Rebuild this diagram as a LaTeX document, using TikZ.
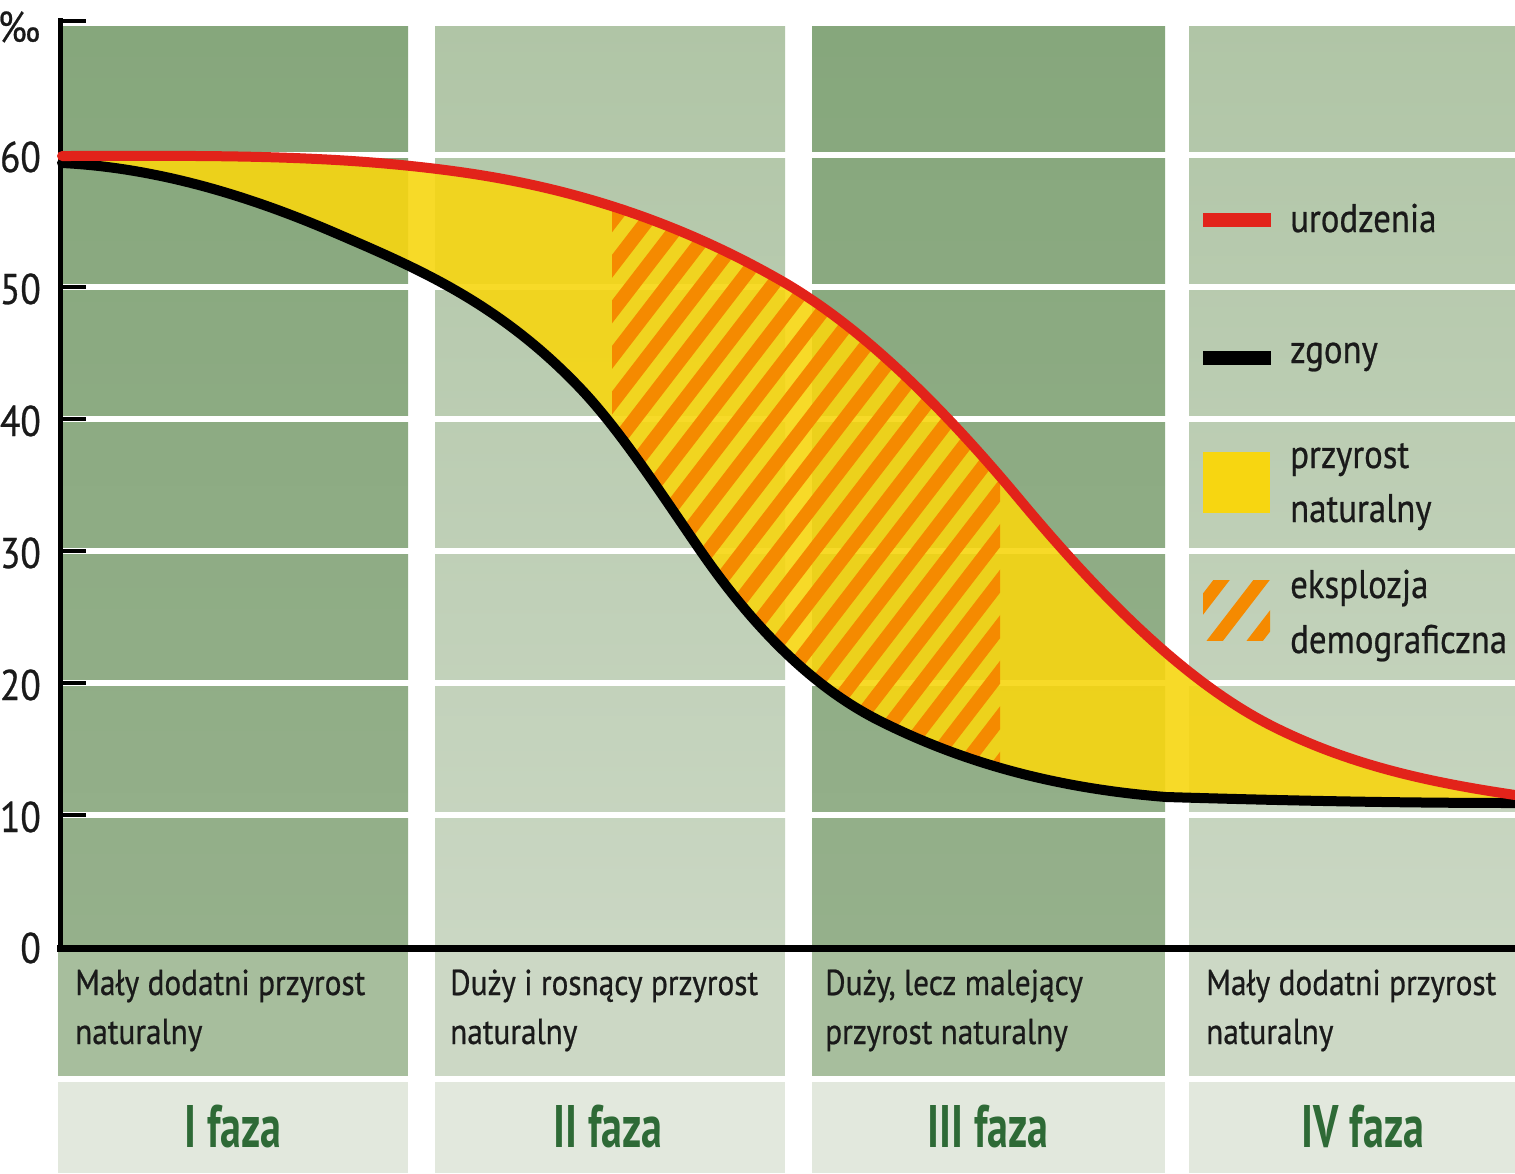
\documentclass[tikz,border=0pt]{standalone}
\usepackage{fontspec}
\setmainfont{PT Sans}[FakeStretch=0.87, FakeBold=0.6]
\newfontfamily\phasefont{PT Sans}[FakeStretch=0.70]
\definecolor{dkgT}{HTML}{86A77C}
\definecolor{dkgB}{HTML}{95B08B}
\definecolor{ltgT}{HTML}{B0C5A6}
\definecolor{ltgB}{HTML}{CAD7C3}
\definecolor{dktxt}{HTML}{A7BE9D}
\definecolor{lttxt}{HTML}{CCD8C5}
\definecolor{phasebg}{HTML}{E2E8DD}
\definecolor{phasefg}{HTML}{2E6A36}
\definecolor{birth}{HTML}{E2231A}
\definecolor{growth}{HTML}{F7D611}
\definecolor{boom}{HTML}{F58A00}
\definecolor{txt}{HTML}{1A1A1A}
\tikzset{
  desc/.style={anchor=base west, inner sep=0pt, text=txt, font=\fontsize{36}{44}\selectfont},
  phase/.style={anchor=base, inner sep=0pt, text=phasefg, font=\phasefont\bfseries\fontsize{60}{70}\selectfont},
  ylab/.style={anchor=base east, inner sep=0pt, text=txt, font=\fontsize{43}{50}\selectfont},
  leg/.style={anchor=base west, inner sep=0pt, text=txt, font=\fontsize{40}{46}\selectfont},
  darkcol/.style={top color=dkgT, bottom color=dkgB},
  lightcol/.style={top color=ltgT, bottom color=ltgB},
  gridgap/.style={white, line width=6pt},
  tick/.style={black, line width=4.5pt},
  birthline/.style={birth, line width=10pt, line cap=round},
  deathline/.style={black, line width=10pt, line cap=round},
  stripe/.style={boom, line width=14pt},
  birthcurve/.style={insert path={(62,156) .. controls (201,156) and (341,153) .. (480,175)
     .. controls (580,191) and (680,223) .. (780,280)
     .. controls (860,325.6) and (940,404) .. (1020,500)
     .. controls (1104.7,601.6) and (1189.3,684.7) .. (1274,727)
     .. controls (1354.3,767) and (1434.7,783) .. (1515,795)}},
  deathcurve/.style={insert path={(62,163) .. controls (152.3,167.5) and (242.7,193.2) .. (333,232)
     .. controls (415.3,267.4) and (497.7,301.6) .. (580,388)
     .. controls (620,430) and (660,492) .. (700,550)
     .. controls (760,637) and (820,691) .. (880,721)
     .. controls (975.3,768.7) and (1070.7,789.4) .. (1166,797)
     .. controls (1282,800.5) and (1398.7,803) .. (1515,803)}},
  deathback/.style={insert path={-- (1515,803) .. controls (1398.7,803) and (1282,800.5) .. (1166,797)
     .. controls (1070.7,789.4) and (975.3,768.7) .. (880,721)
     .. controls (820,691) and (760,637) .. (700,550)
     .. controls (660,492) and (620,430) .. (580,388)
     .. controls (497.7,301.6) and (415.3,267.4) .. (333,232)
     .. controls (242.7,193.2) and (152.3,167.5) .. (62,163) -- cycle}}
}
\begin{document}
\begin{tikzpicture}[x=1pt,y=-1pt]
\useasboundingbox (0,0) rectangle (1515,1173);
\fill[white] (0,0) rectangle (1515,1173);
% columns
\shade[darkcol]  (58,26)   rectangle (408,945);
\shade[lightcol] (435,26)  rectangle (785,945);
\shade[darkcol]  (812,26)  rectangle (1165,945);
\shade[lightcol] (1189,26) rectangle (1515,945);
\foreach \y in {155,287,419,551,683,815}
  \draw[gridgap] (62,\y) -- (1515,\y);
% description row
\fill[dktxt] (58,951)   rectangle (408,1076);
\fill[lttxt] (435,951)  rectangle (785,1076);
\fill[dktxt] (812,951)  rectangle (1165,1076);
\fill[lttxt] (1189,951) rectangle (1515,1076);
% phase row
\fill[phasebg] (58,1082)   rectangle (408,1173);
\fill[phasebg] (435,1082)  rectangle (785,1173);
\fill[phasebg] (812,1082)  rectangle (1165,1173);
\fill[phasebg] (1189,1082) rectangle (1515,1173);
% axis
\foreach \y in {21,155,287,419,551,683,815}
  \draw[tick] (58,\y) -- (86,\y);
\draw[black, line width=5pt] (60,18) -- (60,951);
\draw[black, line width=7pt] (57,948) -- (1515,948);
% natural growth area
\fill[growth, fill opacity=0.9, birthcurve, deathback];
% demographic explosion hatch
\begin{scope}
  \clip (612,0) rectangle (1000,1000);
  \clip[birthcurve, deathback];
  \foreach \a in {-15,-14,...,30}
    \draw[stripe] (300+35*\a,900) -- ++(538,-700);
\end{scope}
% curves
\draw[deathline, deathcurve];
\draw[birthline, birthcurve];
% y labels
\node[ylab] (permil) at (41,42) {‰};
\node[ylab] (y60) at (41,172) {60};
\node[ylab] (y50) at (41,304) {50};
\node[ylab] (y40) at (41,436) {40};
\node[ylab] (y30) at (41,568) {30};
\node[ylab] (y20) at (41,700) {20};
\node[ylab] (y10) at (41,832) {10};
\node[ylab] (y0)  at (41,963) {0};
% legend
\draw[birth, line width=14pt] (1203,220) -- (1271,220);
\node[leg] (legbirth) at (1290,232) {urodzenia};
\draw[black, line width=14pt] (1203,358) -- (1271,358);
\node[leg] (legdeath) at (1290,363) {zgony};
\fill[growth] (1203,452) rectangle (1270,513);
\node[leg] (leggrowth1) at (1290,468) {przyrost};
\node[leg] (leggrowth2) at (1290,522) {naturalny};
\begin{scope}
  \clip (1203,580) rectangle (1270,640);
  \foreach \a in {0,1,2,3}
    \draw[boom, line width=13pt] (1160+40*\a,660) -- ++(70,-91);
\end{scope}
\node[leg] (legboom1) at (1290,598) {eksplozja};
\node[leg] (legboom2) at (1290,653) {demograficzna};
% descriptions
\node[desc] (d1a) at (75,995)  {Mały dodatni przyrost};
\node[desc] (d1b) at (75,1044) {naturalny};
\node[desc] (d2a) at (450,995) {Duży i rosnący przyrost};
\node[desc] (d2b) at (450,1044) {naturalny};
\node[desc] (d3a) at (825,995) {Duży, lecz malejący};
\node[desc] (d3b) at (825,1044) {przyrost naturalny};
\node[desc] (d4a) at (1206,995) {Mały dodatni przyrost};
\node[desc] (d4b) at (1206,1044) {naturalny};
% phases
\node[phase] (p1) at (233,1147)  {I faza};
\node[phase] (p2) at (608,1147)  {II faza};
\node[phase] (p3) at (988,1147)  {III faza};
\node[phase] (p4) at (1363,1147) {IV faza};
\end{tikzpicture}
\end{document}
